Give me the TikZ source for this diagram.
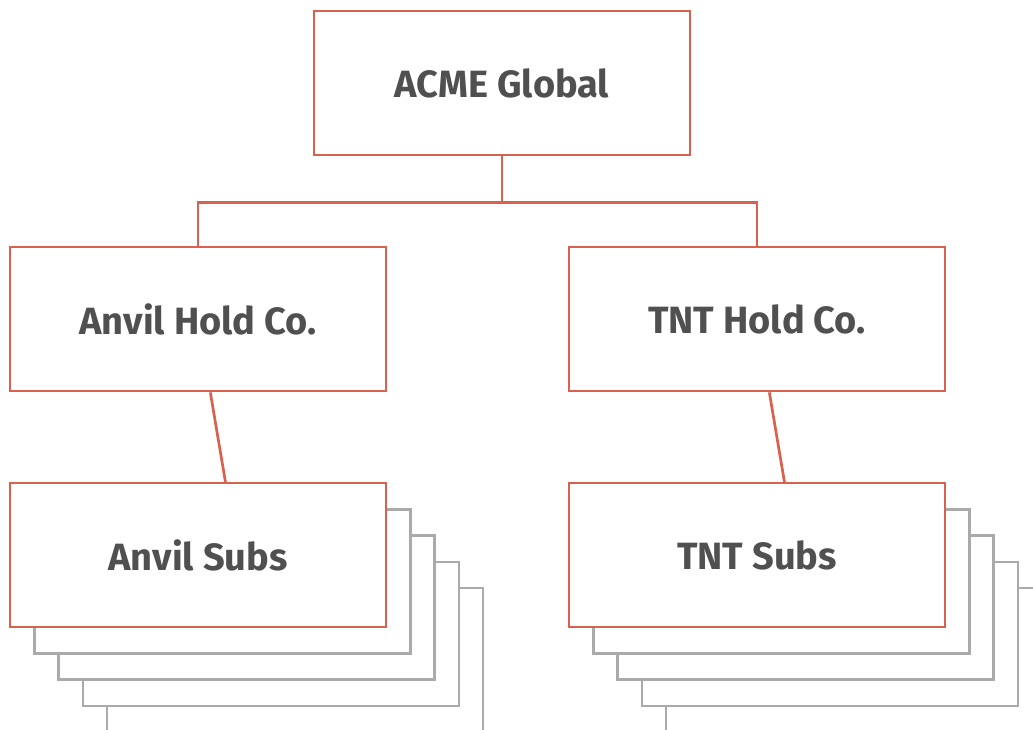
\documentclass[tikz,border=0pt]{standalone}
\usepackage{fontspec}
\setmainfont{Fira Sans}
\usetikzlibrary{backgrounds}
\definecolor{boxred}{HTML}{D9614E}
\definecolor{boxgray}{HTML}{AAAAAA}
\definecolor{textgray}{HTML}{505050}
\begin{document}
\begin{tikzpicture}[x=1pt, y=-1pt,
  orgbox/.style = {shape=rectangle, draw=boxred, fill=white,
    line width=2.7pt, minimum width=376pt, minimum height=144pt,
    inner sep=0pt, text=textgray,
    font=\bfseries\fontsize{38}{46}\selectfont},
  stackbox/.style = {orgbox, draw=boxgray, line width=2.5pt},
  link/.style = {draw=boxred, line width=2.7pt}
  ]
  \useasboundingbox (0,0) rectangle (1033,730);
  \clip (0,0) rectangle (1033,730);
  % top level
  \node[orgbox] (acme) at (502,83) {ACME Global};
  % holding companies
  \node[orgbox] (anvilhold) at (198,319) {Anvil Hold Co.};
  \node[orgbox] (tnthold) at (757,319) {TNT Hold Co.};
  % stacked subsidiaries, back to front
  \foreach \i in {4,3,2,1} {
    \node[stackbox] (anvilsubs\i) at ({198+24.3*\i},{555+26.3*\i}) {};
    \node[stackbox] (tntsubs\i) at ({757+24.3*\i},{555+26.3*\i}) {};
  }
  \node[orgbox] (anvilsubs) at (198,555) {Anvil Subs};
  \node[orgbox] (tntsubs) at (757,555) {TNT Subs};
  % connectors
  \begin{pgfonlayer}{background}
    \draw[link] (acme.south) -- ++(0,46) -| (anvilhold.north);
    \draw[link] (acme.south) -- ++(0,46) -| (tnthold.north);
    \draw[link] (anvilhold) -- (anvilsubs2);
    \draw[link] (tnthold) -- (tntsubs2);
  \end{pgfonlayer}
\end{tikzpicture}
\end{document}
